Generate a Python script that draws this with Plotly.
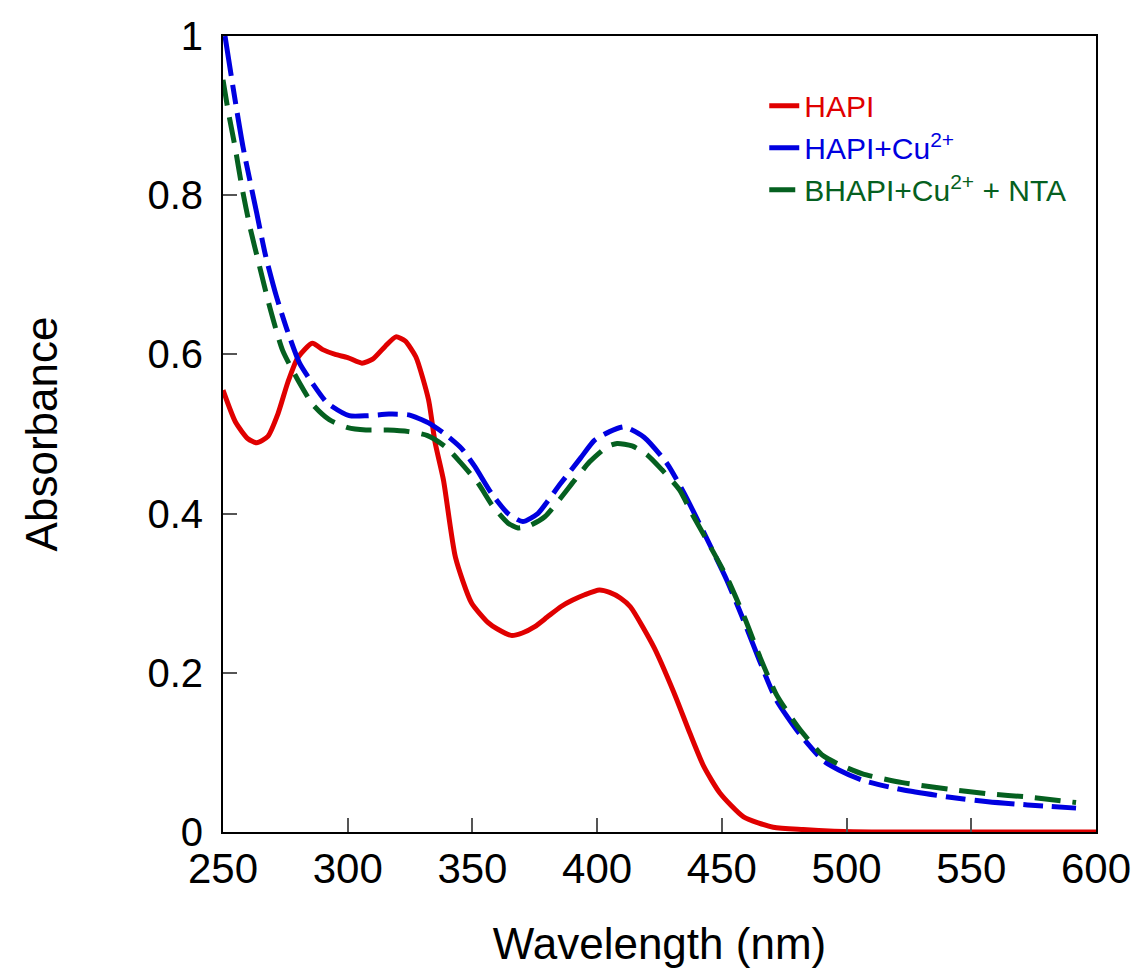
import plotly.graph_objects as go

# HAPI (red)
wl_hapi = [250, 255, 260, 263.5, 268, 272, 276, 280, 285.8, 290, 295, 300, 305.7, 310, 315, 319.3,
           323, 327.3, 332.4, 335, 338.4, 343.2, 349.6, 356.3, 360, 365.5, 370, 375, 380, 385.4,
           390, 395, 400.9, 405, 409.3, 413.3, 422.8, 430.8, 437.2, 442.8, 449.2,
           458.7, 470.6, 482.6, 495, 510, 530, 550, 570, 590, 600]
abs_hapi = [0.555, 0.515, 0.494, 0.489, 0.497, 0.525, 0.565, 0.596, 0.614, 0.606, 0.600, 0.596, 0.589, 0.594,
            0.610, 0.622, 0.617, 0.597, 0.543, 0.49, 0.442, 0.345, 0.288, 0.263, 0.255, 0.247, 0.250,
            0.258, 0.270, 0.283, 0.291, 0.298, 0.304, 0.301, 0.294, 0.283, 0.232, 0.175,
            0.124, 0.082, 0.049, 0.019, 0.006, 0.003, 0.001, 0.0, 0.0, 0.0, 0.0, 0.0, 0.0]

# HAPI + Cu2+ (blue)
wl_cu = [250.8, 254, 258, 263.5, 267, 271.5, 276, 280.7, 285.8, 291.8, 300.6, 308, 316.5, 324.5,
         332.4, 339, 345.6, 351, 357.5, 364.3, 370.2, 376.2, 380, 385.4, 393.4, 398.9, 405, 410.9,
         418.8, 428, 434.8, 442.8, 451.9, 458.7, 465, 471.8, 481, 490.5, 496.9, 506.4, 522.4,
         540.7, 556.7, 572.6, 592]
abs_cu = [1.0, 0.936, 0.861, 0.778, 0.725, 0.672, 0.628, 0.589, 0.564, 0.539, 0.523, 0.523, 0.525, 0.524,
          0.514, 0.500, 0.482, 0.459, 0.426, 0.400, 0.390, 0.400, 0.415, 0.438, 0.470, 0.492, 0.503, 0.509,
          0.496, 0.463, 0.426, 0.376, 0.317, 0.266, 0.216, 0.166, 0.124, 0.090, 0.078, 0.065, 0.053,
          0.044, 0.038, 0.034, 0.030]

# BHAPI + Cu2+ + NTA (green)
wl_nta = [250, 252, 254.8, 257.6, 260.8, 264.7, 268.7, 273.9, 280.7, 286, 292.6, 300, 307.3, 316,
          324.5, 332, 339.2, 345, 352.3, 358, 364.3, 368.3, 373, 379, 385, 391, 397, 404, 408,
          414, 420, 426, 433, 438, 443, 452, 459, 465, 472, 481, 490.5, 497, 506.4, 522.4, 540.7,
          556.7, 572.6, 592]
abs_nta = [0.945, 0.907, 0.861, 0.810, 0.760, 0.710, 0.660, 0.605, 0.564, 0.537, 0.518, 0.508, 0.505, 0.505,
           0.503, 0.498, 0.484, 0.465, 0.438, 0.410, 0.388, 0.382, 0.385, 0.396, 0.418, 0.442, 0.465,
           0.484, 0.488, 0.485, 0.474, 0.455, 0.430, 0.400, 0.372, 0.320, 0.270, 0.222, 0.172, 0.130,
           0.096, 0.085, 0.073, 0.062, 0.054, 0.048, 0.044, 0.037]

x_ticks = [250, 300, 350, 400, 450, 500, 550, 600]
y_ticks = [0, 0.2, 0.4, 0.6, 0.8, 1]
y_tick_text = ["0", "0.2", "0.4", "0.6", "0.8", "1"]

RED = "#e00000"
BLUE = "#0000e0"
GREEN = "#056020"

fig = go.Figure()
fig.add_trace(go.Scatter(
    x=wl_hapi, y=abs_hapi, mode="lines", line=dict(color=RED, width=5, shape="spline", smoothing=0.6),
    name='<span style="color:%s">HAPI</span>' % RED))
fig.add_trace(go.Scatter(
    x=wl_cu, y=abs_cu, mode="lines",
    line=dict(color=BLUE, width=5, shape="spline", smoothing=0.6, dash="40px,9px,20px,9px"),
    name='<span style="color:%s">HAPI+Cu<sup>2+</sup></span>' % BLUE))
fig.add_trace(go.Scatter(
    x=wl_nta, y=abs_nta, mode="lines",
    line=dict(color=GREEN, width=5, shape="spline", smoothing=0.6, dash="26px,12px"),
    name='<span style="color:%s">BHAPI+Cu<sup>2+</sup> + NTA</span>' % GREEN))

FONT = "Liberation Sans, Arial, sans-serif"
fig.update_layout(
    width=1143, height=972,
    margin=dict(l=223, r=41, t=36, b=140),
    paper_bgcolor="white", plot_bgcolor="white",
    font=dict(family=FONT, color="black", size=36),
    showlegend=True,
    legend=dict(x=0.62, y=0.945, xanchor="left", yanchor="top",
                font=dict(family=FONT, size=30), bgcolor="rgba(0,0,0,0)",
                tracegroupgap=2, itemwidth=30),
    xaxis=dict(range=[250, 600], tickvals=x_ticks, ticks="inside", ticklen=14, tickwidth=2,
               tickcolor="#555555", showline=True, linecolor="black", linewidth=2, mirror=True,
               showgrid=False, zeroline=False, tickfont=dict(size=42), ticklabelstandoff=-1,
               title=dict(text="Wavelength (nm)", font=dict(size=44), standoff=37)),
    yaxis=dict(range=[0, 1], tickvals=y_ticks, ticktext=y_tick_text, ticks="inside", ticklen=14,
               tickwidth=2, tickcolor="#555555", showline=True, linecolor="black", linewidth=2,
               mirror=True, showgrid=False, zeroline=False, tickfont=dict(size=40),
               ticklabelstandoff=10,
               title=dict(text="Absorbance", font=dict(size=44), standoff=76)),
)

fig.write_html("out.html")
